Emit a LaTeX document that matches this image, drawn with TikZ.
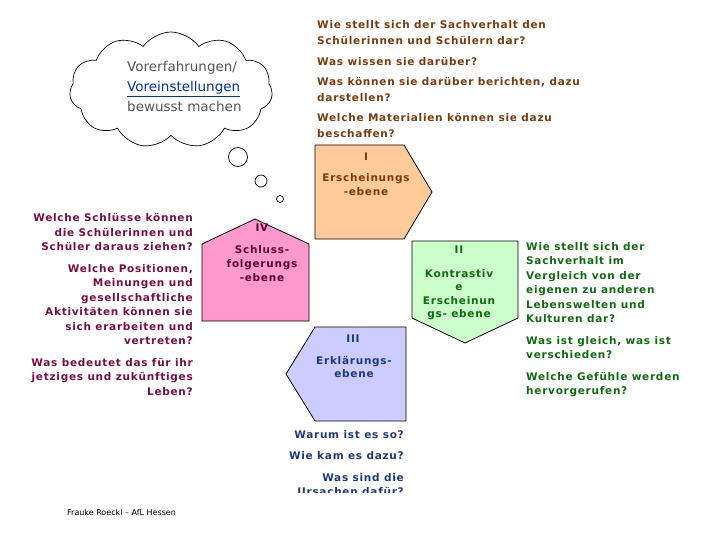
\documentclass[tikz,border=0pt]{standalone}
\usepackage{fontspec}
\setmainfont{DejaVu Sans}
\newfontfamily\qfont[LetterSpace=7]{DejaVu Sans}
\usetikzlibrary{shapes.symbols}
\definecolor{cBrown}{HTML}{7B3A0B}
\definecolor{cMaroon}{HTML}{7A0D3F}
\definecolor{cGreen}{HTML}{0E6B0E}
\definecolor{cNavy}{HTML}{1C3A7A}
\definecolor{cPinkT}{HTML}{55062F}
\definecolor{fOrange}{HTML}{FFCC99}
\definecolor{fPink}{HTML}{FF99CC}
\definecolor{fGreen}{HTML}{CCFFCC}
\definecolor{fBlue}{HTML}{CCCCFF}
\definecolor{cGray}{HTML}{555555}
\definecolor{cLink}{HTML}{0033AA}
\begin{document}
\begin{tikzpicture}[x=1pt,y=-1pt,
  txt/.style={inner sep=0pt,font=\qfont\bfseries\fontsize{10.5}{14.5}\selectfont},
  toptxt/.style={inner sep=0pt,font=\qfont\bfseries\fontsize{10.5}{16}\selectfont},
  shptxt/.style={inner sep=0pt,align=center,font=\qfont\bfseries\fontsize{10.5}{14}\selectfont},
  shp/.style={draw=black,line width=0.8pt,line join=miter},
  bubble/.style={draw=black,line width=0.7pt,fill=white}]
\useasboundingbox (0,0) rectangle (720,540);

% cloud and bubbles
\node[cloud,cloud puffs=11,cloud puff arc=110,draw=black,line width=0.7pt,
      minimum width=203pt,minimum height=116pt,inner sep=0pt] (cloud) at (171,90) {};
\draw[bubble] (238,157) circle (9.5);
\draw[bubble] (261,181) circle (6);
\draw[bubble] (280,199) circle (3.5);
\node[inner sep=0pt,anchor=base west,align=left,text=cGray,
      font=\fontsize{13.5}{20}\selectfont] (cloudtxt) at (127,112)
  {Vorerfahrungen/\\\textcolor{cLink}{\underline{Voreinstellungen}}\\bewusst machen};

% shapes
\draw[shp,fill=fOrange] (315,145) -- (404,145) -- (432,192) -- (404,239) -- (315,239) -- cycle;
\draw[shp,fill=fPink] (202,244) -- (255,219) -- (309,244) -- (309,321) -- (202,321) -- cycle;
\draw[shp,fill=fGreen] (412,241) -- (518,241) -- (518,318) -- (465,343) -- (412,318) -- cycle;
\draw[shp,fill=fBlue] (315,327) -- (406,327) -- (406,421) -- (315,421) -- (286,374) -- cycle;

% shape labels (base = last line)
\node[shptxt,anchor=base,text=cBrown] (n1) at (366,161) {I};
\node[shptxt,anchor=base,text=cBrown] (t1) at (366,196) {Erscheinungs\\-ebene};
\node[shptxt,anchor=base,text=cPinkT] (n4) at (262,231) {IV};
\node[shptxt,anchor=base,text=cPinkT] (t4) at (262,281) {Schluss-\\folgerungs\\-ebene};
\node[shptxt,anchor=base,text=cGreen] (n2) at (459,254) {II};
\node[shptxt,anchor=base,text=cGreen,font=\qfont\bfseries\fontsize{10.5}{13.5}\selectfont] (t2) at (459,317.5) {Kontrastiv\\e\\Erscheinun\\gs- ebene};
\node[shptxt,anchor=base,text=cNavy] (n3) at (353,342) {III};
\node[shptxt,anchor=base,text=cNavy,font=\qfont\bfseries\fontsize{10.5}{13.5}\selectfont] (t3) at (354,377.5) {Erkl\"arungs-\\ebene};

% top questions
\node[toptxt,anchor=base west,align=left,text=cBrown] (q1a) at (317,45) {Wie stellt sich der Sachverhalt den\\Sch\"ulerinnen und Sch\"ulern dar?};
\node[toptxt,anchor=base west,align=left,text=cBrown] (q1b) at (317,66) {Was wissen sie dar\"uber?};
\node[toptxt,anchor=base west,align=left,text=cBrown] (q1c) at (317,102) {Was k\"onnen sie dar\"uber berichten, dazu\\darstellen?};
\node[toptxt,anchor=base west,align=left,text=cBrown] (q1d) at (317,138) {Welche Materialien k\"onnen sie dazu\\beschaffen?};

% left questions
\node[txt,anchor=base east,align=right,text=cMaroon] (q4a) at (193,251) {Welche Schl\"usse k\"onnen\\die Sch\"ulerinnen und\\Sch\"uler daraus ziehen?};
\node[txt,anchor=base east,align=right,text=cMaroon] (q4b) at (193,344.5) {Welche Positionen,\\Meinungen und\\gesellschaftliche\\Aktivit\"aten k\"onnen sie\\sich erarbeiten und\\vertreten?};
\node[txt,anchor=base east,align=right,text=cMaroon] (q4c) at (193,395) {Was bedeutet das f\"ur ihr\\jetziges und zuk\"unftiges\\Leben?};

% right questions
\node[txt,anchor=base west,align=left,text=cGreen] (q2a) at (526,322.5) {Wie stellt sich der\\Sachverhalt im\\Vergleich von der\\eigenen zu anderen\\Lebenswelten und\\Kulturen dar?};
\node[txt,anchor=base west,align=left,text=cGreen] (q2b) at (526,358.5) {Was ist gleich, was ist\\verschieden?};
\node[txt,anchor=base west,align=left,text=cGreen] (q2c) at (526,394.5) {Welche Gef\"uhle werden\\hervorgerufen?};

% bottom questions (clipped)
\begin{scope}
\clip (240,420) rectangle (430,492);
\node[txt,anchor=base east,text=cNavy] (q3a) at (404,438) {Warum ist es so?};
\node[txt,anchor=base east,text=cNavy] (q3b) at (404,459) {Wie kam es dazu?};
\node[txt,anchor=base east,align=right,text=cNavy] (q3c) at (404,495.5) {Was sind die\\Ursachen daf\"ur?};
\end{scope}

% footer
\node[inner sep=0pt,anchor=base west,font=\fontsize{8}{9}\selectfont] (foot) at (67,515.5) {Frauke Roeckl -- AfL Hessen};
\end{tikzpicture}
\end{document}
